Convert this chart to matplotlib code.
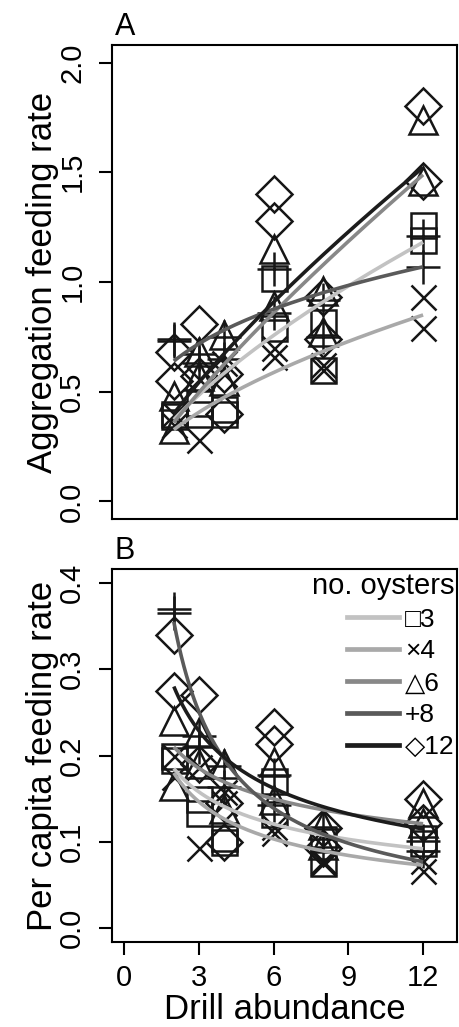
import numpy as np
import matplotlib
matplotlib.use("Agg")
import matplotlib.pyplot as plt
from matplotlib.lines import Line2D
from matplotlib.font_manager import FontProperties

plt.rcParams['font.family'] = ['Liberation Sans', 'DejaVu Sans']

# drill abundance of each trial (two replicates per level)
drills = [2, 2, 3, 3, 4, 4, 6, 6, 8, 8, 12, 12]
oysters = [3, 4, 6, 8, 12]

# aggregate feeding rate
agg_3 = [0.40, 0.39, 0.40, 0.45, 0.40, 0.42, 1.02, 0.79, 0.82, 0.60, 1.26, 1.19]
agg_4 = [0.40, 0.35, 0.28, 0.56, 0.58, 0.63, 0.66, 0.70, 0.60, 0.62, 0.93, 0.79]
agg_6 = [0.48, 0.33, 0.68, 0.57, 0.76, 0.55, 1.15, 0.89, 0.96, 0.77, 1.74, 1.46]
agg_8 = [0.74, 0.73, 0.67, 0.63, 0.75, 0.65, 1.06, 0.86, 0.92, 0.75, 1.21, 1.07]
agg_12 = [0.68, 0.55, 0.81, 0.57, 0.40, 0.58, 1.40, 1.28, 0.93, 0.74, 1.80, 1.46]

# per capita feeding rate
pc_3 = [0.200, 0.195, 0.133, 0.150, 0.100, 0.105, 0.170, 0.132, 0.103, 0.075, 0.105, 0.099]
pc_4 = [0.200, 0.175, 0.093, 0.187, 0.145, 0.158, 0.110, 0.117, 0.075, 0.078, 0.078, 0.066]
pc_6 = [0.240, 0.165, 0.227, 0.190, 0.190, 0.138, 0.192, 0.148, 0.120, 0.096, 0.145, 0.122]
pc_8 = [0.370, 0.365, 0.223, 0.210, 0.188, 0.163, 0.177, 0.143, 0.094, 0.115, 0.101, 0.089]
pc_12 = [0.340, 0.275, 0.270, 0.190, 0.100, 0.145, 0.233, 0.213, 0.116, 0.093, 0.150, 0.122]

# fitted power curves y = a * x^b (estimated from the drawn lines)
agg_fit_a = [0.239, 0.226, 0.2075, 0.524, 0.239]
agg_fit_b = [0.643, 0.533, 0.793, 0.287, 0.745]
pc_fit_a = [0.2424, 0.255, 0.26, 0.641, 0.395]
pc_fit_b = [-0.39, -0.504, -0.308, -0.853, -0.497]

agg = [agg_3, agg_4, agg_6, agg_8, agg_12]
pc = [pc_3, pc_4, pc_6, pc_8, pc_12]

line_cols = ['#c2c2c2', '#a9a9a9', '#888888', '#5a5a5a', '#1c1c1c']
markers = ['s', 'x', '^', '+', 'D']
msizes = [18, 18, 20, 25, 18.5]
legend_labels = ['\u25a13', '\u00d74', '\u25b36', '+8', '\u25c712']

PT_COL = '#161616'
TICK_FS = 21
LAB_FS = 25

fig = plt.figure(figsize=(4.6, 10.27), dpi=100)
axA = fig.add_axes([112 / 460, 1 - 519 / 1027, 345 / 460, 474 / 1027])
axB = fig.add_axes([112 / 460, 1 - 942 / 1027, 345 / 460, 373 / 1027])

xs = np.linspace(2, 12, 200)


def draw_panel(ax, ys, fa, fb):
    for i in range(len(oysters)):
        ax.plot(drills, ys[i], linestyle='none', marker=markers[i],
                ms=msizes[i], mfc='none', mec=PT_COL, mew=1.8, zorder=2)
    for i in range(len(oysters)):
        ax.plot(xs, fa[i] * xs ** fb[i], color=line_cols[i], lw=2.6,
                zorder=3, solid_capstyle='butt')
    for sp in ax.spines.values():
        sp.set_linewidth(1.5)
    ax.tick_params(axis='both', direction='out', length=9.5, width=1.5,
                   labelsize=TICK_FS)
    ax.set_xlim(-0.48, 13.36)


draw_panel(axA, agg, agg_fit_a, agg_fit_b)
draw_panel(axB, pc, pc_fit_a, pc_fit_b)

# panel A
axA.set_ylim(-0.08, 2.08)
axA.set_yticks([0.0, 0.5, 1.0, 1.5, 2.0])
axA.set_yticklabels(['0.0', '0.5', '1.0', '1.5', '2.0'])
axA.set_xticks([])
axA.set_ylabel('Aggregation feeding rate', fontsize=LAB_FS)
axA.yaxis.set_label_coords(-0.155, 0.5)
axA.text(0.008, 1.021, 'A', transform=axA.transAxes, fontsize=22,
         ha='left', va='baseline')

# panel B
axB.set_ylim(-0.016, 0.416)
axB.set_yticks([0.0, 0.1, 0.2, 0.3, 0.4])
axB.set_yticklabels(['0.0', '0.1', '0.2', '0.3', '0.4'])
axB.set_xticks([0, 3, 6, 9, 12])
axB.tick_params(axis='x', pad=6)
axB.set_xlabel('Drill abundance', fontsize=LAB_FS)
axB.xaxis.set_label_coords(0.5, -0.138)
axB.set_ylabel('Per capita feeding rate', fontsize=LAB_FS)
axB.yaxis.set_label_coords(-0.155, 0.5)
axB.text(0.008, 1.027, 'B', transform=axB.transAxes, fontsize=22,
         ha='left', va='baseline')

for ax in (axA, axB):
    ax.tick_params(axis='y', pad=9)
    for lab in ax.get_yticklabels():
        lab.set_rotation(90)
        lab.set_va('center')

handles = [Line2D([], [], color=c, lw=3.4) for c in line_cols]
fp = FontProperties(family=['Liberation Sans', 'DejaVu Sans'], size=19)
leg = axB.legend(handles, legend_labels, prop=fp, title='no. oysters',
                 title_fontproperties=FontProperties(family=['Liberation Sans'], size=21),
                 frameon=False, loc='upper right', bbox_to_anchor=(1.0, 1.0),
                 handlelength=2.0, handletextpad=0.2, labelspacing=0.3,
                 borderaxespad=0.05, borderpad=0.05, alignment='right')

fig.savefig('out.png', dpi=100)
